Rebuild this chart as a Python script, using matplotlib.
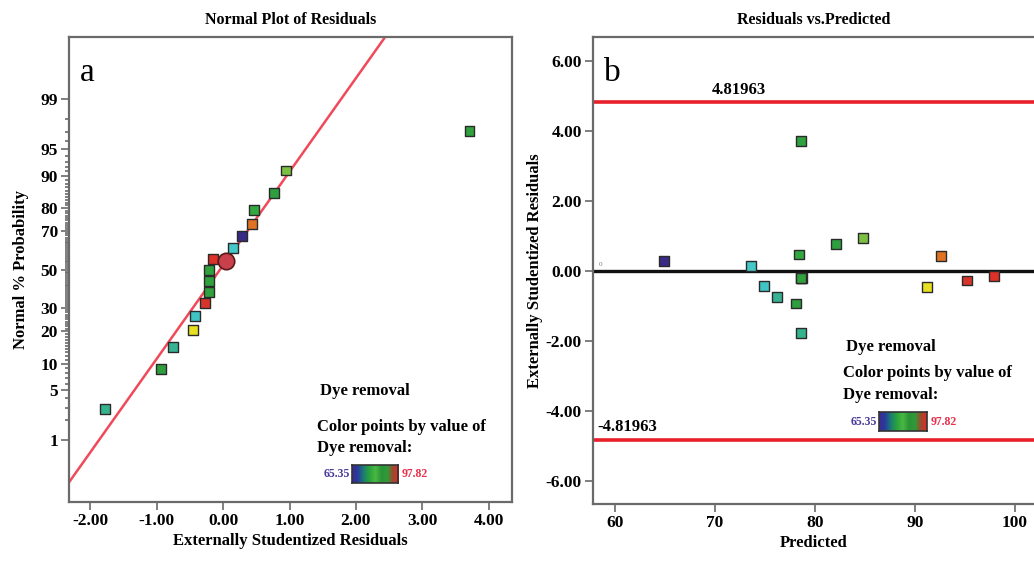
import numpy as np
import matplotlib
matplotlib.use("Agg")
import matplotlib.pyplot as plt
from matplotlib.colors import LinearSegmentedColormap
from statistics import NormalDist

plt.rcParams['font.family'] = ['Liberation Serif', 'DejaVu Serif']
plt.rcParams['font.weight'] = 'bold'

# runs sorted by residual
residuals = [-1.78, -0.93, -0.75, -0.45, -0.42, -0.27, -0.21, -0.21, -0.21,
             -0.15, 0.15, 0.29, 0.44, 0.47, 0.77, 0.95, 3.71]
normal_prob = [2.9, 8.8, 14.7, 20.6, 26.5, 32.4, 38.2, 44.1, 50.0,
               55.9, 61.8, 67.6, 73.5, 79.4, 85.3, 91.2, 97.1]
predicted = [78.6, 78.1, 76.2, 91.2, 74.9, 95.2, 78.6, 78.7, 78.6,
             97.9, 73.6, 64.9, 92.6, 78.4, 82.1, 84.8, 78.6]
point_colors = ['#35b38e', '#2e9e3e', '#37b394', '#e6e020', '#40c4c4', '#d8352a',
                '#2fa23e', '#2fa23e', '#2fa23e', '#dc3028', '#45c8c8', '#3a2a86',
                '#e07224', '#34a840', '#2e9e3e', '#7cc042', '#2fa23e']

# highlighted point (circle) on the normal plot
sel_res, sel_prob = 0.04, 54.8

# fitted normal line: z = slope * (res - x0)
line_slope = 1.283
line_x0 = -0.06

prob_ticks = [1, 5, 10, 20, 30, 50, 70, 80, 90, 95, 99]
res_ticks = [-2, -1, 0, 1, 2, 3, 4]
pred_ticks = [60, 70, 80, 90, 100]
resid_ticks = [-6, -4, -2, 0, 2, 4, 6]
limit = 4.81963
dye_min, dye_max = '65.35', '97.82'

nd = NormalDist()
fwd = np.vectorize(lambda p: nd.inv_cdf(min(max(p, 1e-6), 100 - 1e-6) / 100.0))
inv = np.vectorize(lambda z: nd.cdf(z) * 100.0)

spine_c = '#6a6a6a'
cmap = LinearSegmentedColormap.from_list('dye', ['#3d2a8e', '#283c9e', '#1b7f70', '#2aa43c',
                                                 '#4ab844', '#2a9436', '#2f9a3a', '#9c4a2e', '#e22a2a'])

fig = plt.figure(figsize=(10.34, 5.62), dpi=100)
ax1 = fig.add_axes([0.0667, 0.1068, 0.4285, 0.8274])
ax2 = fig.add_axes([0.5735, 0.1032, 0.4265, 0.8310])


def style(ax):
    for s in ax.spines.values():
        s.set_color(spine_c)
        s.set_linewidth(1.6)
    ax.tick_params(which='both', direction='out', color=spine_c, width=1.2,
                   labelsize=12.5, pad=2)
    ax.tick_params(which='major', length=6)
    ax.tick_params(which='minor', length=3)


def dye_legend(ax, x, rows, cb_x):
    kw = dict(transform=ax.transAxes, fontsize=12, fontweight='bold', va='center')
    ax.text(x + 0.007, rows[0], 'Dye removal', **kw)
    ax.text(x, rows[1], 'Color points by value of', **kw)
    ax.text(x, rows[2], 'Dye removal:', **kw)
    yb = rows[3]
    ax.text(cb_x[0] - 0.005, yb, dye_min, transform=ax.transAxes, fontsize=8.5,
            color='#4a3a9a', ha='right', va='center')
    cax = ax.inset_axes([cb_x[0], yb - 0.02, cb_x[1] - cb_x[0], 0.04])
    cax.imshow(np.linspace(0, 1, 256)[None, :], aspect='auto', cmap=cmap)
    cax.set_xticks([])
    cax.set_yticks([])
    for s in cax.spines.values():
        s.set_color('#333333')
        s.set_linewidth(1.2)
    ax.text(cb_x[1] + 0.008, yb, dye_max, transform=ax.transAxes, fontsize=8.5,
            color='#e8304a', ha='left', va='center')


# ---- (a) normal plot
style(ax1)
ax1.set_yscale('function', functions=(fwd, inv))
ax1.set_xlim(-2.32, 4.35)
ax1.set_ylim(0.077, 99.925)
xl = np.array(ax1.get_xlim())
ax1.plot(xl, inv(line_slope * (xl - line_x0)), color='#f04a5a', lw=1.8, zorder=2)
ax1.scatter(residuals, normal_prob, marker='s', s=50, c=point_colors,
            edgecolors='#2a2a2a', linewidths=1.0, zorder=3)
ax1.scatter([sel_res], [sel_prob], marker='o', s=140, c='#c8404c',
            edgecolors='#5a1a1a', linewidths=1.2, zorder=4)
ax1.set_yticks(prob_ticks)
ax1.set_yticklabels([str(t) for t in prob_ticks])
ax1.set_yticks(list(range(1, 100)), minor=True)
ax1.yaxis.set_minor_formatter(plt.NullFormatter())
ax1.set_xticks(res_ticks)
ax1.set_xticklabels(['%.2f' % t for t in res_ticks])
ax1.set_xlabel('Externally Studentized Residuals', fontsize=12, fontweight='bold', labelpad=3)
ax1.set_ylabel('Normal % Probability', fontsize=12, fontweight='bold', labelpad=8)
ax1.set_title('Normal Plot of Residuals', fontsize=11.5, fontweight='bold', pad=9)
ax1.text(0.025, 0.955, 'a', transform=ax1.transAxes, fontsize=24, fontweight='normal',
         va='top', ha='left')
dye_legend(ax1, 0.56, [0.239, 0.161, 0.116, 0.060], [0.639, 0.743])

# ---- (b) residuals vs predicted
style(ax2)
ax2.spines['right'].set_visible(False)
ax2.set_xlim(57.8, 101.9)
ax2.set_ylim(-6.66, 6.69)
ax2.axhline(0, color='#111111', lw=2.4, zorder=2)
ax2.axhline(limit, color='#e8202a', lw=2.6, zorder=2)
ax2.axhline(-limit, color='#e8202a', lw=2.6, zorder=2)
ax2.scatter(predicted, residuals, marker='s', s=50, c=point_colors,
            edgecolors='#2a2a2a', linewidths=1.0, zorder=3)
ax2.text(0.33, limit + 0.12, '%.5f' % limit, transform=ax2.get_yaxis_transform(),
         fontsize=12, fontweight='bold', ha='center', va='bottom')
ax2.text(0.01, -limit + 0.12, '%.5f' % -limit, transform=ax2.get_yaxis_transform(),
         fontsize=12, fontweight='bold', ha='left', va='bottom')
ax2.text(0.012, 0.12, '0', transform=ax2.get_yaxis_transform(), fontsize=5,
         color='#777777', ha='left', va='bottom', fontweight='normal')
ax2.set_xticks(pred_ticks)
ax2.set_yticks(resid_ticks)
ax2.set_yticklabels(['%.2f' % t for t in resid_ticks])
ax2.set_xlabel('Predicted', fontsize=12, fontweight='bold', labelpad=3)
ax2.set_ylabel('Externally Studentized Residuals', fontsize=12, fontweight='bold', labelpad=2)
ax2.set_title('Residuals vs.Predicted', fontsize=11.5, fontweight='bold', pad=9)
ax2.text(0.025, 0.955, 'b', transform=ax2.transAxes, fontsize=24, fontweight='normal',
         va='top', ha='left')
dye_legend(ax2, 0.567, [0.336, 0.280, 0.233, 0.176], [0.649, 0.757])

fig.savefig('out.png', dpi=100)
